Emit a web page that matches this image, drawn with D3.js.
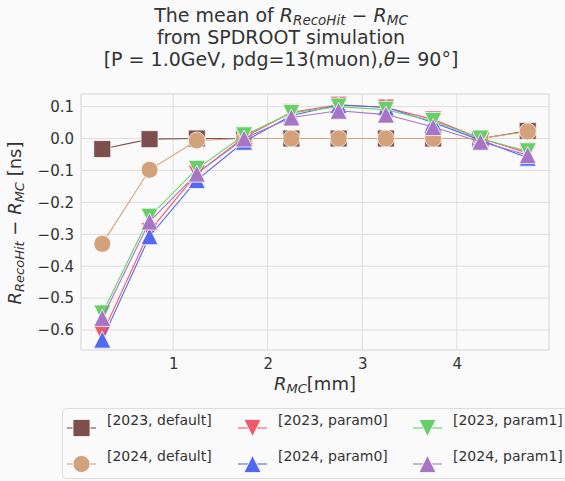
<!DOCTYPE html>
<html lang="en">
<head>
<meta charset="UTF-8">
<title>R mean</title>
<script src="https://cdnjs.cloudflare.com/ajax/libs/d3/7.8.5/d3.min.js"></script>
<style>
  body { margin: 0; background: #fafafa; }
  text { font-family: "DejaVu Sans", sans-serif; fill: #333; }
</style>
</head>
<body>
<script>
// data
var rmc = [0.25, 0.75, 1.25, 1.75, 2.25, 2.75, 3.25, 3.75, 4.25, 4.75];
var def2023 = [-0.033, -0.002, 0.0, 0.0, 0.0, 0.0, 0.0, 0.0, 0.0, 0.024];
var def2024 = [-0.33, -0.098, -0.006, 0.0, 0.0, 0.0, 0.0, 0.0, 0.0, 0.022];
var p0_2023 = [-0.613, -0.29, -0.11, 0.004, 0.082, 0.106, 0.097, 0.06, 0.0, -0.045];
var p0_2024 = [-0.63, -0.306, -0.13, -0.01, 0.072, 0.105, 0.098, 0.05, -0.005, -0.06];
var p1_2023 = [-0.548, -0.245, -0.095, 0.01, 0.08, 0.1, 0.09, 0.055, 0.0, -0.04];
var p1_2024 = [-0.562, -0.26, -0.11, 0.0, 0.066, 0.087, 0.075, 0.036, -0.01, -0.052];
var yTicks = [0.1, 0.0, -0.1, -0.2, -0.3, -0.4, -0.5, -0.6];
var xTicks = [1, 2, 3, 4];

var series = [
  {name: "[2023, default]", vals: def2023, color: "#7e4e4c", sym: "square"},
  {name: "[2024, default]", vals: def2024, color: "#d4a27a", sym: "circle"},
  {name: "[2023, param0]", vals: p0_2023, color: "#f2586c", sym: "down"},
  {name: "[2024, param0]", vals: p0_2024, color: "#5068f2", sym: "up"},
  {name: "[2023, param1]", vals: p1_2023, color: "#68cf68", sym: "down"},
  {name: "[2024, param1]", vals: p1_2024, color: "#a875c6", sym: "up"}
];

var W = 565, H = 481;
var L = 81, R = 549, T = 94, B = 350;

var svg = d3.select("body").append("svg").attr("width", W).attr("height", H);
svg.append("rect").attr("width", W).attr("height", H).attr("fill", "#fafafa");

var x = d3.scaleLinear().domain([0.025, 4.975]).range([L, R]);
var y = d3.scaleLinear().domain([-0.6625, 0.1395]).range([B, T]);

// grid
var g = svg.append("g");
g.selectAll(".gx").data(xTicks).enter().append("line")
  .attr("x1", d => x(d)).attr("x2", d => x(d)).attr("y1", T).attr("y2", B)
  .attr("stroke", "#dedede").attr("stroke-width", 1);
g.selectAll(".gy").data(yTicks).enter().append("line")
  .attr("x1", L).attr("x2", R).attr("y1", d => y(d)).attr("y2", d => y(d))
  .attr("stroke", "#dedede").attr("stroke-width", 1);
g.append("rect").attr("x", L).attr("y", T).attr("width", R - L).attr("height", B - T)
  .attr("fill", "none").attr("stroke", "#dadada").attr("stroke-width", 1.2);

// tick labels
var xAxis = d3.axisBottom(x).tickValues(xTicks).tickSize(0).tickPadding(8).tickFormat(d3.format("d"));
var xa = svg.append("g").attr("transform", "translate(0," + B + ")").call(xAxis);
xa.select(".domain").remove();
xa.selectAll("text").attr("font-size", 15).attr("fill", "#333").attr("font-family", "DejaVu Sans");

var yAxis = d3.axisLeft(y).tickValues(yTicks).tickSize(0).tickPadding(7)
  .tickFormat(d => d3.format(".1f")(d).replace("-", "\u2212"));
var ya = svg.append("g").attr("transform", "translate(" + L + ",0)").call(yAxis);
ya.select(".domain").remove();
ya.selectAll("text").attr("font-size", 15).attr("fill", "#333").attr("font-family", "DejaVu Sans");

// markers
function symbolPath(sym, size) {
  var h = size / 2;
  if (sym === "square") return "M" + (-h) + "," + (-h) + "H" + h + "V" + h + "H" + (-h) + "Z";
  if (sym === "circle") return d3.symbol().type(d3.symbolCircle).size(Math.PI * h * h)();
  if (sym === "up") return "M0," + (-h) + "L" + h + "," + h + "L" + (-h) + "," + h + "Z";
  return "M0," + h + "L" + h + "," + (-h) + "L" + (-h) + "," + (-h) + "Z";
}

var line = d3.line().x((d, i) => x(rmc[i])).y(d => y(d));
var plot = svg.append("g");
series.forEach(function (s) {
  plot.append("path").attr("d", line(s.vals)).attr("fill", "none")
    .attr("stroke", s.color).attr("stroke-width", 1.1);
  plot.selectAll(null).data(s.vals).enter().append("path")
    .attr("d", symbolPath(s.sym, 17))
    .attr("transform", (d, i) => "translate(" + x(rmc[i]) + "," + y(d) + ")")
    .attr("fill", s.color).attr("stroke", "#fafafa").attr("stroke-width", 0.8);
});

// R with italic subscript, built from tspans
function rSub(sel, sub, big, small) {
  sel.append("tspan").attr("font-style", "italic").text("R");
  sel.append("tspan").attr("font-style", "italic").attr("font-size", small)
    .attr("baseline-shift", -Math.round(big * 0.18)).text(sub);
}

// title
var cx = 281;
var t1 = svg.append("text").attr("x", cx).attr("y", 22).attr("text-anchor", "middle").attr("font-size", 19);
t1.append("tspan").text("The mean of ");
rSub(t1, "RecoHit", 19, 13.5);
t1.append("tspan").text(" \u2212 ");
rSub(t1, "MC", 19, 13.5);
svg.append("text").attr("x", cx).attr("y", 44).attr("text-anchor", "middle").attr("font-size", 19)
  .text("from SPDROOT simulation");
var t3 = svg.append("text").attr("x", cx).attr("y", 66).attr("text-anchor", "middle").attr("font-size", 19);
t3.append("tspan").text("[P = 1.0GeV, pdg=13(muon),");
t3.append("tspan").attr("font-style", "italic").text("\u03b8");
t3.append("tspan").text("= 90\u00b0]");

// x label
var xl = svg.append("text").attr("x", 315).attr("y", 390).attr("text-anchor", "middle").attr("font-size", 18);
rSub(xl, "MC", 18, 13);
xl.append("tspan").text("[mm]");

// y label
var yl = svg.append("text").attr("transform", "translate(21,223) rotate(-90)")
  .attr("text-anchor", "middle").attr("font-size", 18);
rSub(yl, "RecoHit", 18, 13);
yl.append("tspan").text(" \u2212 ");
rSub(yl, "MC", 18, 13);
yl.append("tspan").text(" [ns]");

// legend
var lg = svg.append("g");
lg.append("rect").attr("x", 62.5).attr("y", 408.5).attr("width", 520).attr("height", 70).attr("rx", 4)
  .attr("fill", "#fafafa").attr("stroke", "#dddddd");
var colX = [67, 238, 413];
var rowY = [428, 464];
series.forEach(function (s, i) {
  var c = Math.floor(i / 2), r = i % 2;
  var hx = colX[c], hy = rowY[r];
  lg.append("line").attr("x1", hx).attr("x2", hx + 29).attr("y1", hy).attr("y2", hy)
    .attr("stroke", s.color).attr("stroke-width", 1.1);
  lg.append("path").attr("d", symbolPath(s.sym, 17))
    .attr("transform", "translate(" + (hx + 14.5) + "," + hy + ")")
    .attr("fill", s.color).attr("stroke", "#fafafa").attr("stroke-width", 0.8);
  lg.append("text").attr("x", hx + 40).attr("y", hy - 3).attr("font-size", 14).text(s.name);
});
</script>
</body>
</html>
